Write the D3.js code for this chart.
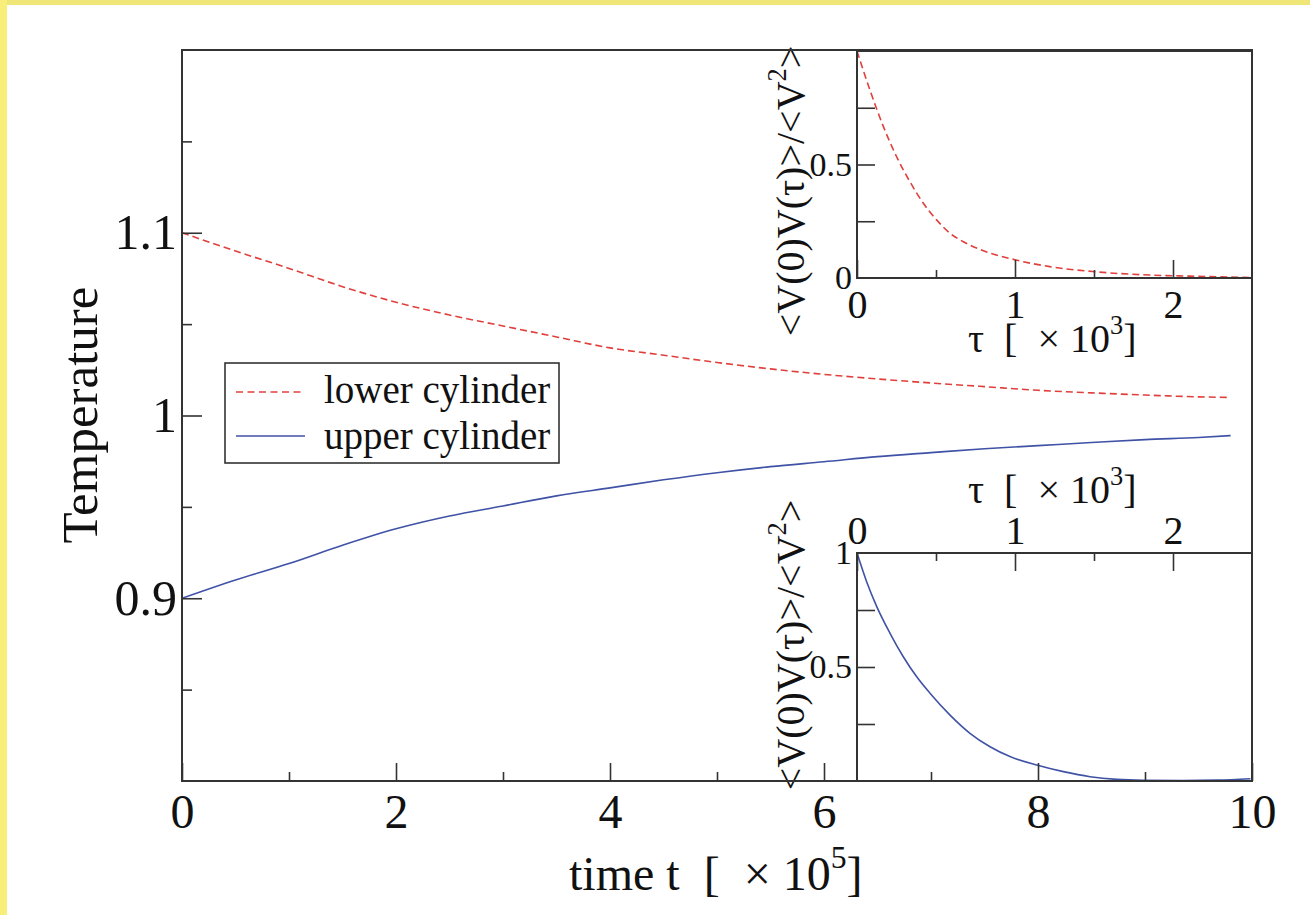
<!DOCTYPE html>
<html>
<head>
<meta charset="utf-8">
<script src="https://cdn.jsdelivr.net/npm/d3@7"></script>
<style>
  body { margin: 0; background: #fff; }
  svg { display: block; font-family: "Liberation Serif", "Times New Roman", serif; }
  text { white-space: pre; fill: #111; }
</style>
</head>
<body>
<svg id="chart" width="1310" height="915"></svg>
<script>
// main panel: temperature of both cylinders vs time [x 10^5]
const timeT = [0, 0.5, 1, 1.5, 2, 2.5, 3, 3.5, 4, 4.5, 5, 5.5, 6, 6.5, 7, 7.5, 8, 8.5, 9, 9.5, 9.8];
const lowerTemp = [1.100, 1.090, 1.0805, 1.0705, 1.062, 1.055, 1.049, 1.043, 1.037, 1.033, 1.029, 1.0255, 1.0225, 1.0200, 1.0178, 1.0158, 1.0138, 1.0124, 1.0112, 1.0102, 1.0099];
const upperTemp = [0.900, 0.910, 0.9190, 0.9290, 0.938, 0.945, 0.9505, 0.956, 0.9604, 0.9648, 0.9687, 0.9720, 0.9747, 0.9775, 0.9797, 0.9818, 0.9835, 0.9852, 0.9868, 0.9880, 0.9890];

const xMajor = [0, 2, 4, 6, 8, 10];
const xMinor = [1, 3, 5, 7, 9];
const yMajor = [0.9, 1.0, 1.1];
const yMajorLabels = ["0.9", "1", "1.1"];
const yMinor = [0.85, 0.95, 1.05, 1.15];

// top inset: lower cylinder autocorrelation vs tau [x 10^3]
const tauLower = [0, 0.082, 0.167, 0.251, 0.335, 0.42, 0.504, 0.589, 0.673, 0.8, 0.99, 1.22, 1.5, 1.85, 2.06, 2.49];
const corrLower = [1.0, 0.828, 0.667, 0.534, 0.424, 0.329, 0.256, 0.197, 0.160, 0.120, 0.082, 0.050, 0.028, 0.013, 0.009, 0.002];

// bottom inset: upper cylinder autocorrelation
const tauUpper = [0, 0.061, 0.125, 0.209, 0.293, 0.378, 0.462, 0.589, 0.715, 0.842, 0.968, 1.137, 1.306, 1.475, 1.644, 1.812, 2.06, 2.28, 2.49];
const corrUpper = [1.0, 0.874, 0.765, 0.648, 0.545, 0.457, 0.385, 0.289, 0.209, 0.150, 0.107, 0.070, 0.041, 0.019, 0.007, 0.003, 0.002, 0.004, 0.010];

const tauMajor = [0, 1, 2];
const tauMinor = [0.5, 1.5];
const corrTicks = [0.25, 0.5, 0.75];

const RED = "#e0403c";
const BLUE = "#3f52a6";
const INK = "#333";

const svg = d3.select("#chart");

// yellow page edge
svg.append("rect").attr("x", 0).attr("y", 0).attr("width", 1310).attr("height", 5).attr("fill", "#f0e678");
svg.append("rect").attr("x", 0).attr("y", 0).attr("width", 7).attr("height", 915).attr("fill", "#f8ee7a");

const plot = { left: 182, right: 1252, top: 50, bottom: 781 };
const x = d3.scaleLinear().domain([0, 10]).range([plot.left, plot.right]);
const y = d3.scaleLinear().domain([0.8, 1.2]).range([plot.bottom, plot.top]);

svg.append("defs").append("clipPath").attr("id", "clipMain")
  .append("rect")
  .attr("x", plot.left).attr("y", plot.top)
  .attr("width", plot.right - plot.left).attr("height", plot.bottom - plot.top);

// main curves
const mainLine = d3.line().x(d => x(d[0])).y(d => y(d[1])).curve(d3.curveMonotoneX);
svg.append("path")
  .datum(d3.zip(timeT, lowerTemp))
  .attr("clip-path", "url(#clipMain)")
  .attr("d", mainLine)
  .attr("fill", "none").attr("stroke", RED).attr("stroke-width", 1.6)
  .attr("stroke-dasharray", "7,4");
svg.append("path")
  .datum(d3.zip(timeT, upperTemp))
  .attr("clip-path", "url(#clipMain)")
  .attr("d", mainLine)
  .attr("fill", "none").attr("stroke", BLUE).attr("stroke-width", 1.6);

// legend
const legend = svg.append("g");
legend.append("rect")
  .attr("x", 225).attr("y", 363).attr("width", 334).attr("height", 100)
  .attr("fill", "#fff").attr("stroke", INK).attr("stroke-width", 1.6);
legend.append("line").attr("x1", 236).attr("x2", 305).attr("y1", 392).attr("y2", 392)
  .attr("stroke", RED).attr("stroke-width", 1.6).attr("stroke-dasharray", "7,4.5");
legend.append("line").attr("x1", 236).attr("x2", 305).attr("y1", 436).attr("y2", 436)
  .attr("stroke", BLUE).attr("stroke-width", 1.6);
legend.append("text").attr("x", 324).attr("y", 403).attr("font-size", 39).text("lower cylinder");
legend.append("text").attr("x", 324).attr("y", 449).attr("font-size", 39).text("upper cylinder");

function styleAxis(g, size) {
  g.attr("font-size", size).attr("font-family", null).attr("color", INK);
  g.select(".domain").remove();
  g.selectAll(".tick line").attr("stroke-width", 1.6);
}

function frame(x0, y0, x1, y1) {
  svg.append("rect")
    .attr("x", x0).attr("y", y0).attr("width", x1 - x0).attr("height", y1 - y0)
    .attr("fill", "none").attr("stroke", INK).attr("stroke-width", 2);
}

function supLabel(g, main, sup, tail, size) {
  const t = g.append("text").attr("font-size", size);
  t.append("tspan").text(main);
  t.append("tspan").attr("font-size", size * 0.66).attr("dy", -size * 0.45).text(sup);
  t.append("tspan").attr("dy", size * 0.45).text(tail);
  return t;
}

// inset panels
function inset(top, bottom, tau, corr, color, dashed, axisOnTop, yLabels, labelY) {
  const ix = d3.scaleLinear().domain([0, 2.5]).range([857, plot.right]);
  const iy = d3.scaleLinear().domain([0, 1]).range([bottom, top]);

  svg.append("rect")
    .attr("x", 857).attr("y", top).attr("width", plot.right - 857).attr("height", bottom - top)
    .attr("fill", "#fff");

  const line = d3.line().x(d => ix(d[0])).y(d => iy(d[1])).curve(d3.curveMonotoneX);
  svg.append("path")
    .datum(d3.zip(tau, corr))
    .attr("d", line)
    .attr("fill", "none").attr("stroke", color).attr("stroke-width", 1.6)
    .attr("stroke-dasharray", dashed ? "7,4" : null);

  const axisY = axisOnTop ? top : bottom;
  const make = axisOnTop ? d3.axisTop : d3.axisBottom;
  svg.append("g").attr("transform", `translate(0,${axisY})`)
    .call(make(ix).tickValues(tauMajor).tickSize(-18).tickPadding(axisOnTop ? 9 : 12).tickFormat(d3.format("d")))
    .call(g => styleAxis(g, 40));
  svg.append("g").attr("transform", `translate(0,${axisY})`)
    .call(make(ix).tickValues(tauMinor).tickSize(-8).tickFormat(""))
    .call(g => styleAxis(g, 40));

  svg.append("g").attr("transform", "translate(857,0)")
    .call(d3.axisLeft(iy).tickValues(corrTicks).tickSize(-18).tickFormat(""))
    .call(g => styleAxis(g, 34));
  svg.append("g").attr("transform", "translate(857,0)")
    .call(d3.axisLeft(iy).tickValues(yLabels.map(Number)).tickSize(0).tickPadding(5)
      .tickFormat((d, i) => yLabels[i]))
    .call(g => styleAxis(g, 34));

  frame(857, top, plot.right, bottom);

  // axis titles
  const tauTitle = supLabel(svg.append("g"), "\u03c4  [  \u00d7 10", "3", "]", 40);
  tauTitle.attr("x", 968).attr("y", axisOnTop ? 503 : 352);

  const yl = svg.append("g").attr("transform", `translate(804,${labelY}) rotate(-90)`);
  const yt = supLabel(yl, "<V(0)V(\u03c4)>/<V", "2", ">", 40);
  yt.attr("text-anchor", "middle");
}

inset(51, 278, tauLower, corrLower, RED, true, false, ["0", "0.5"], 191);
inset(553, plot.bottom, tauUpper, corrUpper, BLUE, false, true, ["0.5", "1"], 645);

// main frame and axes on top
frame(plot.left, plot.top, plot.right, plot.bottom);

svg.append("g").attr("transform", `translate(0,${plot.bottom})`)
  .call(d3.axisBottom(x).tickValues(xMajor).tickSize(-18).tickPadding(13).tickFormat(d3.format("d")))
  .call(g => styleAxis(g, 48));
svg.append("g").attr("transform", `translate(0,${plot.bottom})`)
  .call(d3.axisBottom(x).tickValues(xMinor).tickSize(-9).tickFormat(""))
  .call(g => styleAxis(g, 48));
svg.append("g").attr("transform", `translate(${plot.left},0)`)
  .call(d3.axisLeft(y).tickValues(yMajor).tickSize(-20).tickPadding(5)
    .tickFormat((d, i) => yMajorLabels[i]))
  .call(g => styleAxis(g, 50));
svg.append("g").attr("transform", `translate(${plot.left},0)`)
  .call(d3.axisLeft(y).tickValues(yMinor).tickSize(-10).tickFormat(""))
  .call(g => styleAxis(g, 50));

// main axis titles
const xTitle = supLabel(svg.append("g"), "time t  [  \u00d7 10", "5", "]", 48);
xTitle.attr("x", 569).attr("y", 890);

svg.append("text")
  .attr("transform", "translate(97,415) rotate(-90)")
  .attr("text-anchor", "middle")
  .attr("font-size", 51)
  .text("Temperature");
</script>
</body>
</html>
